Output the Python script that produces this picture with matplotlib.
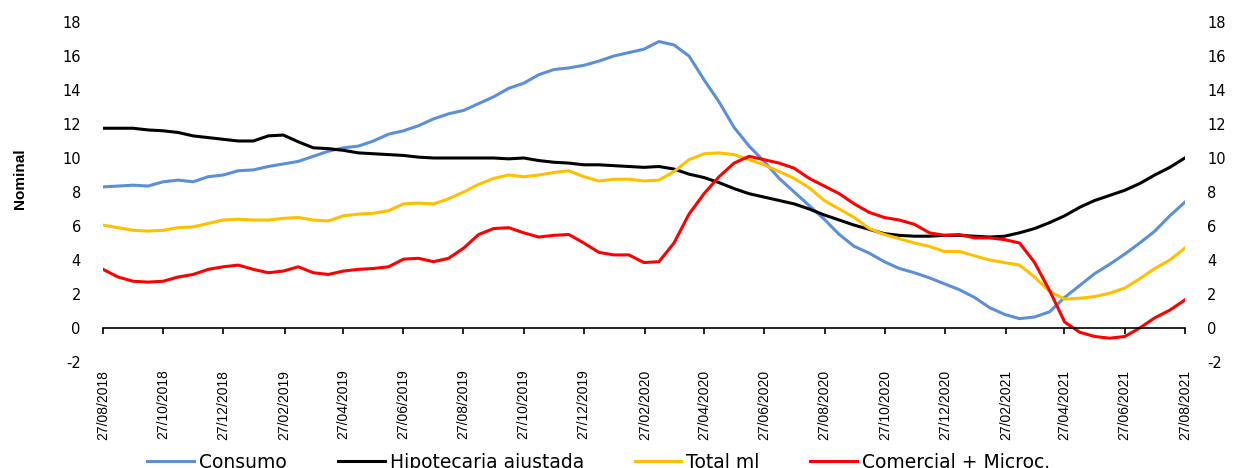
import pandas as pd
import numpy as np
import matplotlib.pyplot as plt
import matplotlib.dates as mdates

plt.rcParams['axes.unicode_minus'] = False

# fechas quincenales 27/08/2018 - 27/08/2021
fechas = pd.date_range('2018-08-27', '2021-08-27', periods=73)

consumo = [8.3, 8.35, 8.4, 8.35, 8.6, 8.7, 8.6, 8.9, 9.0, 9.25, 9.3, 9.5, 9.65, 9.8, 10.1,
           10.4, 10.6, 10.7, 11.0, 11.4, 11.6, 11.9, 12.3, 12.6, 12.8, 13.2, 13.6, 14.1, 14.4,
           14.9, 15.2, 15.3, 15.45, 15.7, 16.0, 16.2, 16.4, 16.85, 16.65, 16.0, 14.6, 13.3,
           11.8, 10.7, 9.8, 8.8, 8.0, 7.2, 6.4, 5.5, 4.8, 4.4, 3.9, 3.5, 3.25, 2.95, 2.6, 2.25,
           1.8, 1.2, 0.8, 0.55, 0.65, 0.95, 1.8, 2.5, 3.2, 3.75, 4.35, 5.0, 5.7, 6.6, 7.4]

hipotecaria = [11.75, 11.75, 11.75, 11.65, 11.6, 11.5, 11.3, 11.2, 11.1, 11.0, 11.0, 11.3, 11.35,
               10.95, 10.6, 10.55, 10.45, 10.3, 10.25, 10.2, 10.15, 10.05, 10.0, 10.0, 10.0, 10.0,
               10.0, 9.95, 10.0, 9.85, 9.75, 9.7, 9.6, 9.6, 9.55, 9.5, 9.45, 9.5, 9.35, 9.05, 8.85,
               8.55, 8.2, 7.9, 7.7, 7.5, 7.3, 7.0, 6.65, 6.35, 6.05, 5.8, 5.55, 5.45, 5.4, 5.4, 5.45,
               5.45, 5.4, 5.35, 5.4, 5.6, 5.85, 6.2, 6.6, 7.1, 7.5, 7.8, 8.1, 8.5, 9.0, 9.45, 10.0]

total_ml = [6.05, 5.9, 5.75, 5.7, 5.75, 5.9, 5.95, 6.15, 6.35, 6.4, 6.35, 6.35, 6.45, 6.5, 6.35,
            6.3, 6.6, 6.7, 6.75, 6.9, 7.3, 7.35, 7.3, 7.6, 8.0, 8.45, 8.8, 9.0, 8.9, 9.0, 9.15,
            9.25, 8.9, 8.65, 8.75, 8.75, 8.65, 8.7, 9.2, 9.9, 10.25, 10.3, 10.2, 9.9, 9.6, 9.2,
            8.8, 8.25, 7.5, 7.0, 6.5, 5.85, 5.5, 5.25, 5.0, 4.8, 4.5, 4.5, 4.25, 4.0, 3.85, 3.7,
            3.0, 2.15, 1.7, 1.75, 1.85, 2.05, 2.35, 2.9, 3.5, 4.0, 4.7]

comercial = [3.45, 3.0, 2.75, 2.7, 2.75, 3.0, 3.15, 3.45, 3.6, 3.7, 3.45, 3.25, 3.35, 3.6, 3.25,
             3.15, 3.35, 3.45, 3.5, 3.6, 4.05, 4.1, 3.9, 4.1, 4.7, 5.5, 5.85, 5.9, 5.6, 5.35,
             5.45, 5.5, 5.0, 4.45, 4.3, 4.3, 3.85, 3.9, 5.0, 6.7, 7.9, 8.9, 9.7, 10.1, 9.9, 9.7,
             9.4, 8.8, 8.35, 7.9, 7.3, 6.8, 6.5, 6.35, 6.1, 5.6, 5.45, 5.5, 5.3, 5.3, 5.2, 5.0,
             3.85, 2.2, 0.35, -0.25, -0.5, -0.6, -0.5, 0.0, 0.6, 1.05, 1.65]

series = {
    'Consumo': (consumo, '#5B8FD6'),
    'Hipotecaria ajustada': (hipotecaria, 'black'),
    'Total ml': (total_ml, '#FFC000'),
    'Comercial + Microc.': (comercial, '#FF0000'),
}

fig = plt.figure(figsize=(12.35, 4.68), dpi=100)
ax = fig.add_axes([0.0834, 0.2265, 0.876, 0.7265])

for nombre, (valores, color) in series.items():
    ax.plot(fechas, valores, color=color, lw=2.2, label=nombre)

ax.set_ylim(-2, 18)
ax.set_yticks(np.arange(-2, 19, 2))
ax.set_xlim(fechas[0], fechas[-1])

ticks = [pd.Timestamp(2018, 8, 27) + pd.DateOffset(months=2 * k) for k in range(19)]
ax.set_xticks(ticks)
ax.xaxis.set_major_formatter(mdates.DateFormatter('%d/%m/%Y'))

for s in ['top', 'right', 'left']:
    ax.spines[s].set_visible(False)
ax.spines['bottom'].set_position(('data', 0))
ax.spines['bottom'].set_linewidth(1.2)

ax.tick_params(axis='x', direction='out', length=4, width=1.2, pad=26,
               labelrotation=90, labelsize=10)
for lbl in ax.get_xticklabels():
    lbl.set_family(['Liberation Sans', 'DejaVu Sans'])
    lbl.set_va('top')
ax.tick_params(axis='y', length=0, labelsize=10.5, pad=16, labelright=True)

ax.set_ylabel('Nominal', fontsize=11, fontweight='bold',
              family=['Liberation Sans', 'DejaVu Sans'])
ax.yaxis.set_label_coords(-0.07, 0.54)

fig.legend(loc='center', bbox_to_anchor=(0.485, 0.012), ncol=4, frameon=False,
           fontsize=13.5, handlelength=2.5, columnspacing=2.7, handletextpad=0.27)

fig.savefig('out.png', dpi=100)
